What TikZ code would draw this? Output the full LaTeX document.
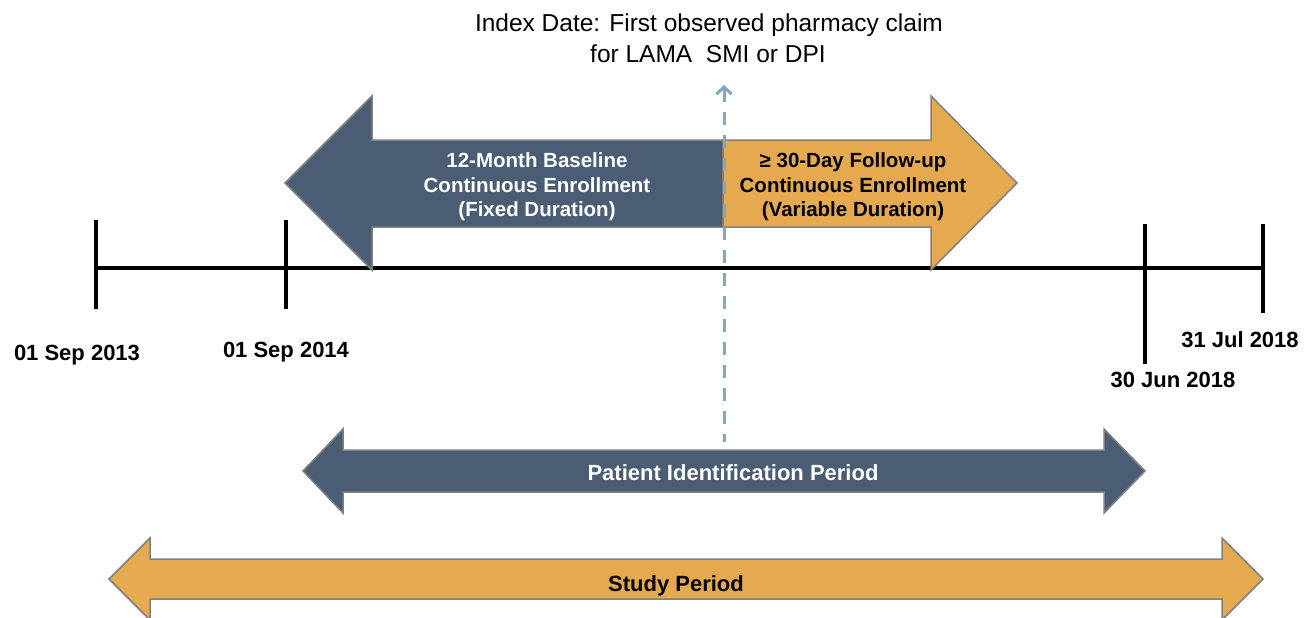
\documentclass[tikz,border=0pt]{standalone}
\usepackage{fontspec}
\setmainfont{Liberation Sans}
\usetikzlibrary{arrows.meta}
\definecolor{navy}{RGB}{75,93,116}
\definecolor{amber}{RGB}{229,170,80}
\definecolor{rim}{RGB}{128,128,128}
\definecolor{dashblue}{RGB}{125,170,188}
\tikzset{
  bandnavy/.style={fill=navy,draw=rim,line width=1.5pt,line join=miter},
  bandamber/.style={fill=amber,draw=rim,line width=1.5pt,line join=miter},
  axisline/.style={line width=3.2pt,black},
  tickline/.style={line width=4pt,black},
  datelbl/.style={font=\fontsize{22}{26}\selectfont\bfseries,anchor=base,inner sep=0pt},
  whitelbl/.style={font=\fontsize{20.5}{25}\selectfont\bfseries,text=white,anchor=base,inner sep=0pt},
  blacklbl/.style={font=\fontsize{20.5}{25}\selectfont\bfseries,text=black,anchor=base,inner sep=0pt},
  periodlbl/.style={font=\fontsize{22}{26}\selectfont\bfseries,anchor=base,inner sep=0pt},
  indexlbl/.style={font=\fontsize{24.5}{31}\selectfont,anchor=base,inner sep=0pt},
  indexline/.style={dashblue,line width=3pt,dash pattern=on 13pt off 10pt,{Straight Barb[length=7pt,width=15pt,line width=3pt]}-}
}
\begin{document}
\begin{tikzpicture}[x=1pt,y=-1pt]
\useasboundingbox (0,0) rectangle (1312,618);
% timeline
\draw[axisline] (95,268) -- (1263,268);
\draw[tickline] (96,220) -- (96,309);
\draw[tickline] (286,220) -- (286,309);
\draw[tickline] (1145,224) -- (1145,364);
\draw[tickline] (1263,224) -- (1263,313);
% top arrows
\draw[bandnavy] (723,140) -- (372,140) -- (372,96) -- (285,183) -- (372,270) -- (372,227) -- (723,227) -- cycle;
\draw[bandamber] (723,140) -- (931,140) -- (931,96) -- (1017,183) -- (931,270) -- (931,227) -- (723,227) -- cycle;
% bottom arrows
\draw[bandnavy] (343,450) -- (343,429) -- (303,471) -- (343,513) -- (343,492) -- (1104,492) -- (1104,513) -- (1145,471) -- (1104,429) -- (1104,450) -- cycle;
\draw[bandamber] (150,559) -- (150,538) -- (109,579) -- (150,620) -- (150,599) -- (1222,599) -- (1222,620) -- (1263,579) -- (1222,538) -- (1222,559) -- cycle;
% labels in arrows
\node[whitelbl] (b1) at (537,167) {12-Month Baseline};
\node[whitelbl] (b2) at (537,192) {Continuous Enrollment};
\node[whitelbl] (b3) at (537,216) {(Fixed Duration)};
\node[blacklbl] (f1) at (853,167) {≥ 30-Day Follow-up};
\node[blacklbl] (f2) at (853,192) {Continuous Enrollment};
\node[blacklbl] (f3) at (853,216) {(Variable Duration)};
\node[periodlbl,text=white] (pip) at (733,480) {Patient Identification Period};
\node[periodlbl] (sp) at (676,591) {Study Period};
% dates
\node[datelbl] (d1) at (77,360) {01 Sep 2013};
\node[datelbl] (d2) at (286,357) {01 Sep 2014};
\node[datelbl] (d3) at (1240,347) {31 Jul 2018};
\node[datelbl] (d4) at (1173,387) {30 Jun 2018};
% index date
\node[indexlbl] (idx1) at (709,32) {Index Date: First observed pharmacy claim};
\node[indexlbl] (idx2) at (708,63) {for LAMA\ \ SMI or DPI};
\coordinate (idxtop) at (724,85);
\coordinate (idxbot) at (724,442);
\draw[indexline] (idxtop) -- (idxbot);
\end{tikzpicture}
\end{document}
